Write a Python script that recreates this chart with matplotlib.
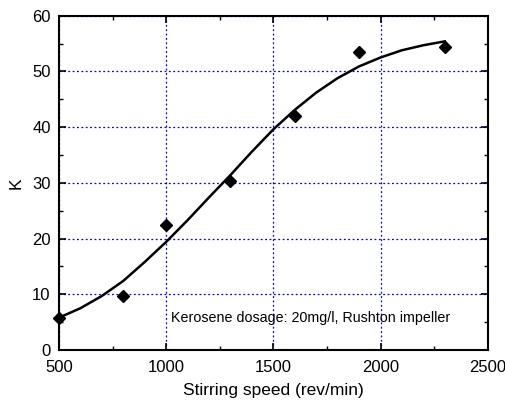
import matplotlib
matplotlib.use('agg')
import matplotlib.pyplot as plt
from matplotlib.ticker import MultipleLocator

plt.rcParams['font.family'] = ['Liberation Sans', 'DejaVu Sans']

# measured points
speed = [500, 800, 1000, 1300, 1600, 1900, 2300]
k_val = [5.8, 9.7, 22.4, 30.3, 42.0, 53.4, 54.3]

# fitted curve
fit_speed = [500, 600, 700, 800, 900, 1000, 1100, 1200, 1300, 1400,
             1500, 1600, 1700, 1800, 1900, 2000, 2100, 2200, 2300]
fit_k = [5.8, 7.5, 9.7, 12.4, 15.8, 19.4, 23.3, 27.4, 31.4, 35.6,
         39.6, 43.1, 46.2, 48.8, 50.9, 52.5, 53.8, 54.7, 55.4]

note = 'Kerosene dosage: 20mg/l, Rushton impeller'

fig = plt.figure(figsize=(5.06, 4.04), dpi=100)
ax = fig.add_axes([0.1166, 0.1337, 0.8472, 0.8274])

ax.plot(fit_speed, fit_k, color='black', lw=1.8, zorder=3)
ax.plot(speed, k_val, 'D', color='black', markersize=6.5, zorder=4, clip_on=False)

ax.set_xlim(500, 2500)
ax.set_ylim(0, 60)
ax.xaxis.set_major_locator(MultipleLocator(500))
ax.xaxis.set_minor_locator(MultipleLocator(250))
ax.yaxis.set_major_locator(MultipleLocator(10))
ax.yaxis.set_minor_locator(MultipleLocator(5))

ax.grid(True, which='major', color='blue', linestyle=(0, (1.5, 2.0)), lw=0.9)
ax.tick_params(which='both', direction='in', top=True, right=True, labelsize=12)
ax.tick_params(axis='x', which='major', pad=7)
ax.tick_params(axis='y', which='major', pad=6)
ax.tick_params(which='major', length=5, width=1.2)
ax.tick_params(which='minor', length=3, width=1.0)
for s in ax.spines.values():
    s.set_linewidth(1.5)

ax.set_xlabel('Stirring speed (rev/min)', fontsize=12.5, labelpad=6)
ax.set_ylabel('K', fontsize=12.5, labelpad=6)

ax.text(1023, 5.7, note, fontsize=10.3, va='center', ha='left')

fig.savefig('out.png', dpi=100)
